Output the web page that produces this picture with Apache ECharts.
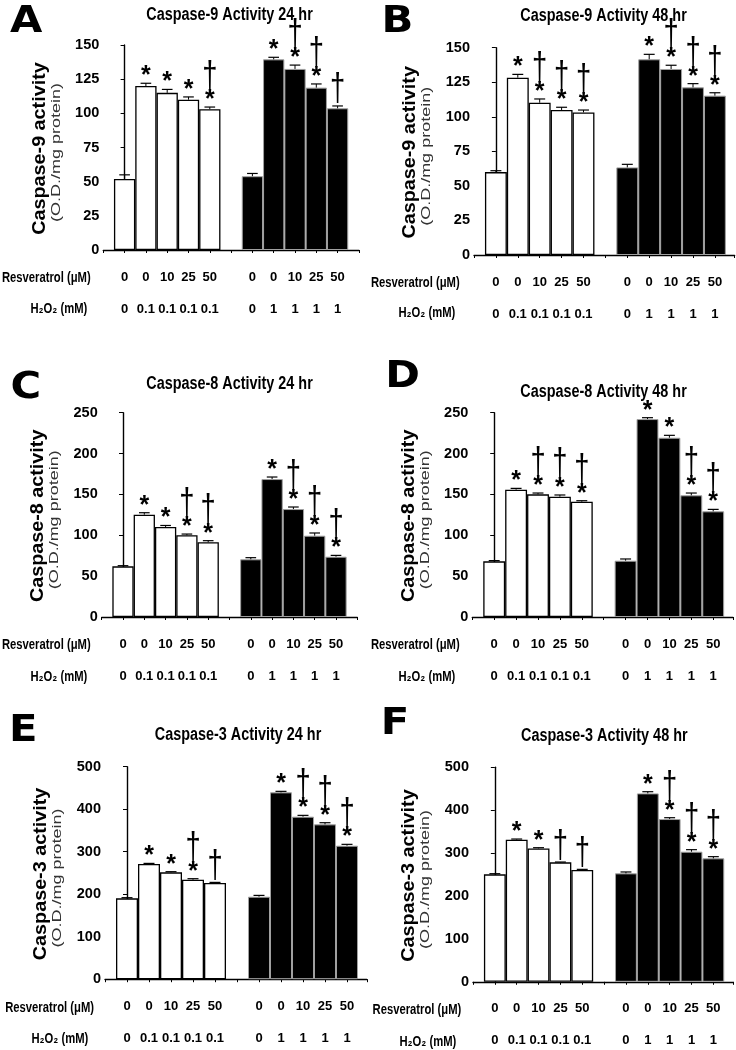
<!DOCTYPE html>
<html><head><meta charset="utf-8">
<script src="https://cdn.jsdelivr.net/npm/echarts@6/dist/echarts.min.js"></script>
<style>html,body{margin:0;padding:0;background:#fff;}#chart{width:736px;height:1050px;}</style>
</head><body><div id="chart"></div>
<script>
// ---------------- DATA ----------------
const resveratrolLabels = ['0','0','10','25','50','','0','0','10','25','50'];
const h2o2Labels = ['0','0.1','0.1','0.1','0.1','','0','1','1','1','1'];
const whitePositions = [0,1,2,3,4];
const blackPositions = [6,7,8,9,10];

const panelLetters = ['A','B','C','D','E','F'];
const panelTitles = ['Caspase-9 Activity 24 hr','Caspase-9 Activity 48 hr','Caspase-8 Activity 24 hr','Caspase-8 Activity 48 hr','Caspase-3 Activity 24 hr','Caspase-3 Activity 48 hr'];
const yTitles = ['Caspase-9 activity','Caspase-9 activity','Caspase-8 activity','Caspase-8 activity','Caspase-3 activity','Caspase-3 activity'];
const yUnit = '(O.D./mg protein)';
const rowTitleRes = 'Resveratrol (\u03bcM)';
const rowTitleH2O2 = 'H\u2082O\u2082 (mM)';
const yMaxes = [150,150,250,250,500,500];
const yIntervals = [25,25,50,50,100,100];

// Panel A: Caspase-9 24 hr
const aWhite = [52,120,115,110,103];
const aWhiteErr = [3,2,2.5,2,1.6];
const aBlack = [54,139.5,132.5,118.8,103.7];
const aBlackErr = [2,1.5,2.8,2.7,1.7];
const aWhiteSig = ['','*','*','*','\u2020*'];
const aBlackSig = ['','*','\u2020*','\u2020*','\u2020'];
// Panel B: Caspase-9 48 hr
const bWhite = [60,128.3,110.2,104.9,103.2];
const bWhiteErr = [1,2.4,2.7,2,1.7];
const bBlack = [63.4,141.6,134.6,121.3,115.3];
const bBlackErr = [2.2,3.6,2.7,2.7,2.1];
const bWhiteSig = ['','*','\u2020*','\u2020*','\u2020*'];
const bBlackSig = ['','*','\u2020*','\u2020*','\u2020*'];
// Panel C: Caspase-8 24 hr
const cWhite = [62,125.2,110.1,100,91.4];
const cWhiteErr = [0.8,2.4,1.9,1.5,2];
const cBlack = [70.6,168.8,132.1,99.5,73.8];
const cBlackErr = [2,2.5,2.5,3.3,1.6];
const cWhiteSig = ['','*','*','\u2020*','\u2020*'];
const cBlackSig = ['','*','\u2020*','\u2020*','\u2020*'];
// Panel D: Caspase-8 48 hr
const dWhite = [68.1,155.8,150.1,147.2,141.1];
const dWhiteErr = [0.9,1.6,1.6,2.1,1.2];
const dBlack = [68.9,242.2,219.4,148.9,129.3];
const dBlackErr = [2.1,1.7,2.9,2.8,2.4];
const dWhiteSig = ['','*','\u2020*','\u2020*','\u2020*'];
const dBlackSig = ['','*','*','\u2020*','\u2020*'];
// Panel E: Caspase-3 24 hr
const eWhite = [190.2,271,251.4,234.1,226.3];
const eWhiteErr = [1.6,1.5,1.6,2.4,1.5];
const eBlack = [194.1,439.6,382.4,364.3,314.1];
const eBlackErr = [3.1,2.4,3.1,3.9,3.2];
const eWhiteSig = ['','*','*','\u2020*','\u2020'];
const eBlackSig = ['','*','\u2020*','\u2020*','\u2020*'];
// Panel F: Caspase-3 48 hr
const fWhite = [250.5,331.3,311,278.4,260.6];
const fWhiteErr = [1.5,1.5,1.6,0.8,1.5];
const fBlack = [252.8,439.2,379.4,303.3,287.8];
const fBlackErr = [3.2,3.9,3.1,4.7,3.9];
const fWhiteSig = ['','*','*','\u2020','\u2020'];
const fBlackSig = ['','*','\u2020*','\u2020*','\u2020*'];

const whiteSets = [aWhite,bWhite,cWhite,dWhite,eWhite,fWhite];
const whiteErrSets = [aWhiteErr,bWhiteErr,cWhiteErr,dWhiteErr,eWhiteErr,fWhiteErr];
const blackSets = [aBlack,bBlack,cBlack,dBlack,eBlack,fBlack];
const blackErrSets = [aBlackErr,bBlackErr,cBlackErr,dBlackErr,eBlackErr,fBlackErr];
const whiteSigSets = [aWhiteSig,bWhiteSig,cWhiteSig,dWhiteSig,eWhiteSig,fWhiteSig];
const blackSigSets = [aBlackSig,bBlackSig,cBlackSig,dBlackSig,eBlackSig,fBlackSig];

// ---------------- LAYOUT (pixels) ----------------
const LAYOUT = [
  {left:103.3, top:45,    height:205,   slot:21.3,  max:11,   letter:[26.3,22.5], title:[229.5,15],
   res:[90.7,277.5], h2o:[87.3,308.5]},
  {left:474,   top:47.7,  height:207.3, slot:21.9,  max:10.9, letter:[397.5,22],  title:[603.5,16.5],
   res:[459.7,282.7], h2o:[455.3,313.3]},
  {left:101.7, top:412.7, height:204.3, slot:21.3,  max:11,   letter:[25.8,388.5], title:[229.5,384.2],
   res:[90.7,645], h2o:[87.3,677]},
  {left:472.3, top:412.7, height:204.3, slot:21.9,  max:10.9, letter:[402.5,377], title:[603.5,391.6],
   res:[459.7,645], h2o:[455.3,677]},
  {left:105,   top:766.7, height:212.5, slot:22,    max:10.9, letter:[23.3,731],  title:[238,735.2],
   res:[94,1007.7], h2o:[88.3,1039]},
  {left:473,   top:767.3, height:214.5, slot:21.85, max:10.9, letter:[395,723.7], title:[604.3,735.9],
   res:[461.3,1010], h2o:[456.3,1041.7]}
];
const SANS = '"Liberation Sans", Arial, Helvetica, sans-serif';

const grids = [], xAxes = [], yAxes = [], series = [], graphics = [];

LAYOUT.forEach((L, p) => {
  grids.push({left:L.left, top:L.top, height:L.height, width:(L.max+1)*L.slot, containLabel:false, outerBoundsMode:'none'});
  xAxes.push({
    type:'value', gridIndex:p, min:-1, max:L.max, interval:1,
    splitLine:{show:false},
    axisLine:{show:true, onZero:false, lineStyle:{color:'#000', width:1.4}},
    axisTick:{show:true, length:3, lineStyle:{color:'#000', width:1}},
    axisLabel:{show:true, margin:11, lineHeight:32, fontSize:13, fontWeight:'bold', fontFamily:SANS, color:'#000',
      showMinLabel:true, showMaxLabel:true,
      formatter: v => {
        const i = Math.round(v);
        if (Math.abs(v - i) > 1e-6 || i < 0 || i > 10 || i === 5) return '';
        return resveratrolLabels[i] + '\n' + h2o2Labels[i];
      }}
  });
  yAxes.push({
    type:'value', gridIndex:p, min:0, max:yMaxes[p], interval:yIntervals[p],
    splitLine:{show:false},
    axisLine:{show:true, lineStyle:{color:'#000', width:1.4}},
    axisTick:{show:true, length:4, lineStyle:{color:'#000', width:1}},
    axisLabel:{show:true, margin:4, fontSize:14.5, fontWeight:'bold', fontFamily:SANS, color:'#000'}
  });

  const wv = whiteSets[p], bv = blackSets[p];
  series.push({
    type:'bar', xAxisIndex:p, yAxisIndex:p, barWidth:'100%', barGap:'-100%', silent:true,
    data: whitePositions.map((x,i) => [x, wv[i]]),
    itemStyle:{color:'#fff', borderColor:'#000', borderWidth:1.3}
  });
  series.push({
    type:'bar', xAxisIndex:p, yAxisIndex:p, barWidth:'100%', barGap:'-100%', silent:true,
    data: blackPositions.map((x,i) => [x, bv[i]]),
    itemStyle:{color:'#000', borderColor:'#a0a0a0', borderWidth:1}
  });

  const errData = whitePositions.map((x,i) => [x, wv[i], whiteErrSets[p][i]])
    .concat(blackPositions.map((x,i) => [x, bv[i], blackErrSets[p][i]]));
  const sigs = whiteSigSets[p].concat(blackSigSets[p]);
  series.push({
    type:'custom', xAxisIndex:p, yAxisIndex:p, silent:true, z:5,
    data: errData,
    renderItem: (params, api) => {
      const x = api.value(0), m = api.value(1), e = api.value(2);
      const pb = api.coord([x, m]);
      const pt = api.coord([x, m + e]);
      const half = api.size([1, 0])[0] * 0.25;
      const ch = [
        {type:'line', shape:{x1:pb[0], y1:pb[1], x2:pt[0], y2:pt[1]}, style:{stroke:'#000', lineWidth:1}},
        {type:'line', shape:{x1:pt[0]-half, y1:pt[1], x2:pt[0]+half, y2:pt[1]}, style:{stroke:'#000', lineWidth:1.2}}
      ];
      const s = sigs[params.dataIndex];
      const hasStar = s.indexOf('*') >= 0, hasDag = s.indexOf('\u2020') >= 0;
      if (hasStar) {
        ch.push({type:'text', x:pt[0], y:pt[1] - 13 + 6,
          style:{text:'*', font:'bold 25px ' + SANS, fill:'#000', align:'center', verticalAlign:'middle'}});
      }
      if (hasDag) {
        ch.push({type:'text', x:pt[0], y:pt[1] - (hasStar ? 30 : 16), scaleX:0.72,
          style:{text:'\u2020', font:'38px ' + SANS, fill:'#000', align:'center', verticalAlign:'middle'}});
      }
      return {type:'group', children:ch};
    }
  });

  // free text
  graphics.push({type:'text', x:L.letter[0], y:L.letter[1], scaleX:1.1,
    style:{text:panelLetters[p], font:'bold 38px "DejaVu Sans", ' + SANS, fill:'#000', align:'center', verticalAlign:'middle'}});
  graphics.push({type:'text', x:L.title[0], y:L.title[1], scaleX:0.8,
    style:{text:panelTitles[p], font:'bold 18px ' + SANS, fill:'#000', align:'center', verticalAlign:'middle'}});
  const mid = L.top + L.height / 2;
  graphics.push({type:'text', x:L.left - 64, y:mid + 1, rotation:Math.PI/2, scaleX:1.04,
    style:{text:yTitles[p], font:'bold 19px ' + SANS, fill:'#000', align:'center', verticalAlign:'middle'}});
  graphics.push({type:'text', x:L.left - 47, y:mid + 5, rotation:Math.PI/2, scaleX:1.5,
    style:{text:yUnit, font:'12px ' + SANS, fill:'#333', align:'center', verticalAlign:'middle'}});
  graphics.push({type:'text', x:L.res[0], y:L.res[1], scaleX:0.75,
    style:{text:rowTitleRes, font:'bold 15px ' + SANS, fill:'#000', align:'right', verticalAlign:'middle'}});
  graphics.push({type:'text', x:L.h2o[0], y:L.h2o[1], scaleX:0.75,
    style:{text:rowTitleH2O2, font:'bold 15px ' + SANS, fill:'#000', align:'right', verticalAlign:'middle'}});
});

const chart = echarts.init(document.getElementById('chart'), null, {renderer:'canvas'});
chart.setOption({
  animation:false,
  backgroundColor:'#fff',
  grid:grids, xAxis:xAxes, yAxis:yAxes, series:series,
  graphic:{elements:graphics}
});
</script></body></html>
